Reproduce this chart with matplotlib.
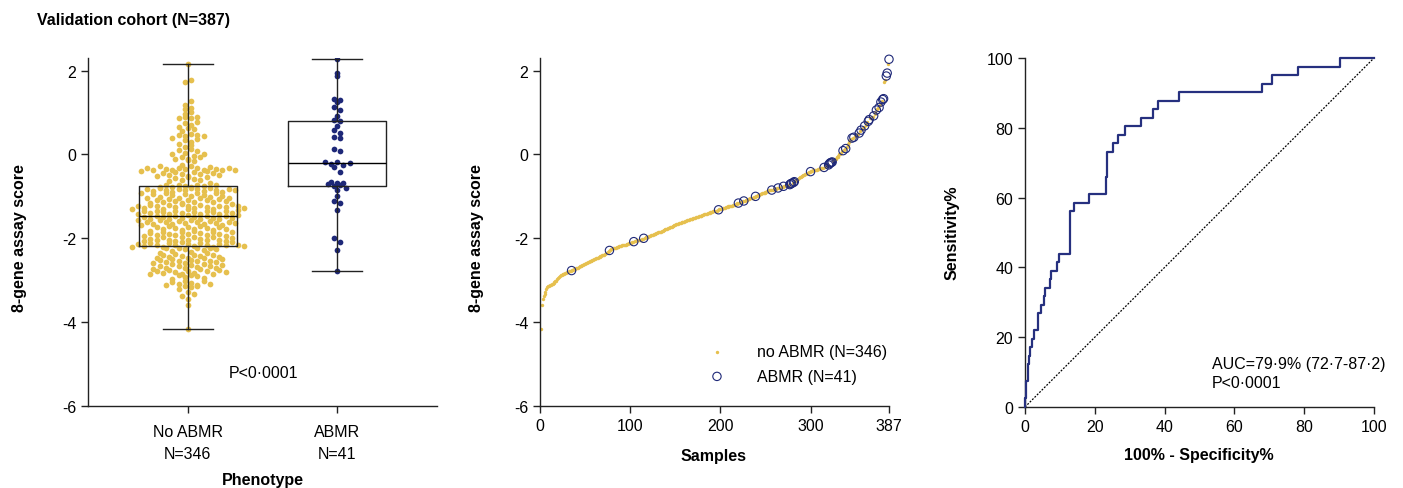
import numpy as np
import matplotlib.pyplot as plt

# 8-gene assay scores
no_abmr = [
    -4.16, -3.59, -3.45, -3.38, -3.32, -3.27, -3.20, -3.16, -3.14, -3.13,
    -3.12, -3.11, -3.10, -3.08, -3.06, -3.05, -3.03, -3.01, -2.98, -2.95,
    -2.92, -2.89, -2.88, -2.87, -2.86, -2.85, -2.84, -2.83, -2.82, -2.81,
    -2.80, -2.79, -2.78, -2.78,
    -2.76, -2.75, -2.74, -2.73, -2.72, -2.71, -2.70, -2.68, -2.67, -2.66,
    -2.65, -2.64, -2.63, -2.62, -2.61, -2.60, -2.59, -2.57, -2.56, -2.55,
    -2.54, -2.53, -2.52, -2.51, -2.50, -2.49, -2.48, -2.47, -2.46, -2.45,
    -2.44, -2.43, -2.42, -2.41, -2.40, -2.39, -2.38, -2.36, -2.34, -2.32,
    -2.30,
    -2.27, -2.26, -2.25, -2.24, -2.24, -2.23, -2.22, -2.21, -2.21, -2.20,
    -2.19, -2.19, -2.18, -2.17, -2.17, -2.16, -2.15, -2.15, -2.14, -2.13,
    -2.13, -2.12, -2.11, -2.11, -2.10, -2.09,
    -2.07, -2.07, -2.06, -2.05, -2.05, -2.04, -2.03, -2.03, -2.02, -2.01,
    -1.99, -1.98, -1.97, -1.96, -1.96, -1.95, -1.94, -1.93, -1.92, -1.91,
    -1.90, -1.90, -1.89, -1.88, -1.87, -1.86, -1.85, -1.85, -1.84, -1.83,
    -1.82, -1.81, -1.80,
    -1.79, -1.78, -1.77, -1.76, -1.75, -1.74, -1.73, -1.72, -1.71, -1.70,
    -1.69, -1.68, -1.67, -1.66, -1.65,
    -1.64, -1.63, -1.63, -1.62, -1.61, -1.60, -1.60, -1.59, -1.58, -1.57,
    -1.57, -1.56, -1.55, -1.54, -1.54, -1.53, -1.52, -1.51, -1.51, -1.50,
    -1.49, -1.49,
    -1.48, -1.47, -1.46, -1.46, -1.45, -1.44, -1.43, -1.43, -1.42, -1.41,
    -1.40, -1.40, -1.39, -1.38, -1.37, -1.37, -1.36, -1.35, -1.35, -1.34,
    -1.34, -1.33,
    -1.31, -1.30, -1.30, -1.29, -1.28, -1.28, -1.27, -1.26, -1.26, -1.25,
    -1.24, -1.24, -1.23, -1.22, -1.22, -1.21, -1.20, -1.20, -1.19, -1.18,
    -1.17,
    -1.15, -1.14, -1.13, -1.13, -1.12,
    -1.10, -1.09, -1.09, -1.08, -1.07, -1.06, -1.05, -1.04, -1.03, -1.03,
    -1.02, -1.01,
    -0.99, -0.98, -0.97, -0.96, -0.95, -0.94, -0.93, -0.93, -0.92, -0.91,
    -0.90, -0.89, -0.88, -0.87, -0.86, -0.86, -0.85,
    -0.84, -0.83, -0.83, -0.82, -0.82, -0.81,
    -0.79, -0.79, -0.78, -0.78, -0.77,
    -0.75, -0.75, -0.74, -0.74, -0.73, -0.73,
    -0.68,
    -0.63, -0.62, -0.60, -0.58, -0.57, -0.55, -0.54, -0.52, -0.51, -0.50,
    -0.48, -0.47, -0.46, -0.45, -0.44, -0.43, -0.42,
    -0.40, -0.39, -0.38, -0.38, -0.37, -0.36, -0.36, -0.35, -0.35, -0.34,
    -0.33, -0.33, -0.32, -0.32,
    -0.30, -0.28, -0.27, -0.26,
    -0.16, -0.14, -0.12, -0.10, -0.07, -0.05, -0.03, 0.00, 0.02, 0.04, 0.07,
    0.11, 0.12,
    0.18, 0.22, 0.26, 0.30, 0.34, 0.37,
    0.40,
    0.43, 0.44, 0.46, 0.47, 0.49,
    0.55,
    0.61, 0.63, 0.66,
    0.71, 0.74, 0.77,
    0.86, 0.88, 0.89, 0.90,
    0.97, 1.02,
    1.08, 1.10,
    1.19,
    1.28,
    1.73, 1.77,
    2.15,
]

abmr = [
    2.27, 1.94, 1.87, 1.33, 1.31, 1.25, 1.12, 1.06, 0.92, 0.83,
    0.79, 0.68, 0.58, 0.51, 0.41, 0.39, 0.14, 0.09, -0.18, -0.19,
    -0.20, -0.22, -0.25, -0.31, -0.41, -0.65, -0.67, -0.69, -0.70, -0.72,
    -0.76, -0.80, -0.85, -1.00, -1.11, -1.16, -1.32, -2.00, -2.08, -2.29,
    -2.77,
]

group_labels = ["No ABMR\nN=346", "ABMR\nN=41"]
legend_labels = ["no ABMR (N=346)", "ABMR (N=41)"]

yellow = "#E6C04E"
navy = "#1E2878"

plt.rcParams["font.family"] = ["Liberation Sans", "DejaVu Sans"]
plt.rcParams["font.size"] = 11.5
plt.rcParams["axes.unicode_minus"] = False
plt.rcParams["axes.linewidth"] = 1.0
plt.rcParams["axes.edgecolor"] = "#222222"


def swarm_offsets(vals, bin_h=0.13, dx=0.042):
    vals = np.asarray(vals)
    bins = np.floor((vals - vals.min()) / bin_h).astype(int)
    off = np.zeros(len(vals))
    for b in np.unique(bins):
        idx = np.where(bins == b)[0]
        n = len(idx)
        slots = (np.arange(n) - (n - 1) / 2) * dx
        perm = np.argsort((np.arange(n) * 0.618) % 1)
        off[idx] = slots[perm]
    return off


W, H = 1403, 489
fig = plt.figure(figsize=(W / 100, H / 100), dpi=100)


def axes_px(x0, y0, x1, y1):
    return fig.add_axes([x0 / W, 1 - y1 / H, (x1 - x0) / W, (y1 - y0) / H])


ax1 = axes_px(88, 59, 437, 407)
ax2 = axes_px(540, 59, 889, 407)
ax3 = axes_px(1025, 59, 1374, 408)

for ax in (ax1, ax2, ax3):
    ax.spines["top"].set_visible(False)
    ax.spines["right"].set_visible(False)
    ax.tick_params(direction="out", length=5, width=1, color="#222222", labelsize=11.5)

# --- left: column scatter + box ---
for i, (vals, col) in enumerate([(no_abmr, yellow), (abmr, navy)]):
    xs = i + swarm_offsets(vals)
    ax1.scatter(xs, vals, s=17, color=col, linewidths=0, zorder=2)

line = dict(color="#222222", linewidth=1.0)
ax1.boxplot([no_abmr, abmr], positions=[0, 1], widths=0.66, whis=(0, 100),
            showfliers=False, capwidths=0.33, boxprops=line, whiskerprops=line,
            capprops=line, medianprops=dict(color="black", linewidth=1.0),
            zorder=3)
ax1.set_xlim(-0.67, 1.67)
ax1.set_ylim(-6, 2.3)
ax1.set_yticks([-6, -4, -2, 0, 2])
ax1.set_xticks([0, 1])
ax1.set_xticklabels(group_labels, linespacing=1.6)
ax1.tick_params(axis="x", pad=8)
fig.text(263 / W, 1 - 374 / H, "P<0\u00b70001", ha="center", va="center",
         fontsize=11.5)

# --- middle: ranked scores ---
scores = np.array(no_abmr + abmr)
is_abmr = np.r_[np.zeros(len(no_abmr), bool), np.ones(len(abmr), bool)]
order = np.argsort(scores, kind="stable")
ranked = scores[order]
ranked_abmr = is_abmr[order]
samples = np.arange(1, len(scores) + 1)

ax2.scatter(samples[~ranked_abmr], ranked[~ranked_abmr], s=6, color=yellow,
            linewidths=0, label=legend_labels[0], zorder=2, clip_on=False)
ax2.scatter(samples[ranked_abmr], ranked[ranked_abmr], s=36, facecolors="none",
            edgecolors=navy, linewidths=0.8, label=legend_labels[1], zorder=3,
            clip_on=False)
ax2.set_xlim(0, 387)
ax2.set_ylim(-6, 2.3)
ax2.set_yticks([-6, -4, -2, 0, 2])
ax2.set_xticks([0, 100, 200, 300, 387])
ax2.legend(loc="upper left", bbox_to_anchor=(701 / W, 1 - 345 / H),
           bbox_transform=fig.transFigure, frameon=False, fontsize=11.5,
           handlelength=2, handletextpad=1.5, labelspacing=0.6,
           borderpad=0, borderaxespad=0)

# --- right: ROC from the same scores ---
desc = np.argsort(-scores, kind="stable")
lab = is_abmr[desc]
tpr = np.r_[0, np.cumsum(lab)] / lab.sum() * 100
fpr = np.r_[0, np.cumsum(~lab)] / (~lab).sum() * 100
ax3.plot([0, 100], [0, 100], color="black", linewidth=0.9,
         linestyle=(0, (1.5, 1.2)), zorder=2)
ax3.plot(fpr, tpr, color="#26307F", linewidth=1.6, zorder=3, clip_on=False)
ax3.set_xlim(0, 100)
ax3.set_ylim(0, 100)
ax3.set_xticks(range(0, 101, 20))
ax3.set_yticks(range(0, 101, 20))
fig.text(1212 / W, 1 - 365 / H, "AUC=79\u00b79% (72\u00b77-87\u00b72)",
         ha="left", va="center", fontsize=11.5)
fig.text(1212 / W, 1 - 384 / H, "P<0\u00b70001", ha="left", va="center",
         fontsize=11.5)

# --- figure texts ---
bold = dict(fontsize=11.5, fontweight="bold")
fig.text(37 / W, 1 - 20 / H, "Validation cohort (N=387)", ha="left", va="center", **bold)
fig.text(20 / W, 1 - 238 / H, "8-gene assay score", rotation=90, ha="center", va="center", **bold)
fig.text(477 / W, 1 - 238 / H, "8-gene assay score", rotation=90, ha="center", va="center", **bold)
fig.text(952 / W, 1 - 233 / H, "Sensitivity%", rotation=90, ha="center", va="center", **bold)
fig.text(263 / W, 1 - 481 / H, "Phenotype", ha="center", va="center", **bold)
fig.text(714 / W, 1 - 457 / H, "Samples", ha="center", va="center", **bold)
fig.text(1199 / W, 1 - 456 / H, "100% - Specificity%", ha="center", va="center", **bold)

fig.savefig("out.png", dpi=100)
